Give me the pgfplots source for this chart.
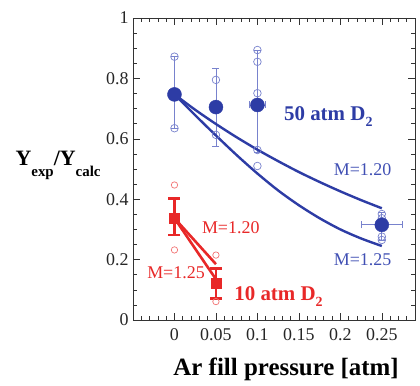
\documentclass[border=0pt]{standalone}
\usepackage{fontspec}
\setmainfont{Liberation Serif}
\usepackage{pgfplots}
\pgfplotsset{compat=1.18}
\definecolor{dblue}{RGB}{45,60,165}
\definecolor{lblue}{RGB}{120,130,205}
\definecolor{mblue}{RGB}{65,80,180}
\definecolor{dred}{RGB}{232,40,40}
\definecolor{lred}{RGB}{242,115,115}
\begin{document}
\begin{tikzpicture}
\useasboundingbox (-133bp,-66bp) rectangle (287bp,320bp);
\begin{axis}[
  at={(0,0)}, anchor=south west,
  scale only axis, width=282bp, height=302bp,
  xmin=-0.05, xmax=0.29, ymin=0, ymax=1,
  axis line style={black!80, line width=0.8pt},
  tick style={black!80, line width=0.6pt},
  major tick length=7bp, minor tick length=4bp,
  tick align=inside,
  xtick={0,0.05,0.1,0.15,0.2,0.25},
  minor xtick={-0.04,-0.03,-0.02,-0.01,0.01,0.02,0.03,0.04,0.06,0.07,0.08,0.09,0.11,0.12,0.13,0.14,0.16,0.17,0.18,0.19,0.21,0.22,0.23,0.24,0.26,0.27,0.28},
  ytick={0,0.2,0.4,0.6,0.8,1},
  minor ytick={0.05,0.1,0.15,0.25,0.3,0.35,0.45,0.5,0.55,0.65,0.7,0.75,0.85,0.9,0.95},
  /pgf/number format/assume math mode=true,
  /pgf/number format/fixed, /pgf/number format/precision=2,
  scaled ticks=false,
  tick label style={font=\fontsize{18}{18}\selectfont, text=black!85},
  xticklabel style={yshift=-5bp},
  yticklabel style={xshift=-1bp},
  clip=false,
  xlabel={\textbf{Ar fill pressure [atm]}},
  xlabel style={font=\fontsize{25}{25}\selectfont, at={(axis description cs:0.543,-0.185)}, anchor=base},
]
% blue vertical error bars
\addplot[only marks, mark=none, lblue,
  error bars/.cd, y dir=both, y explicit,
  error bar style={lblue, line width=0.8bp},
  error mark options={lblue, line width=0.8bp, mark size=3.5bp, rotate=90}]
  table[x=x, y=y, y error plus=ep, y error minus=em] {
x     y      ep     em
0     0.747  0.125  0.112
0.05  0.705  0.128  0.131
0.1   0.712  0.182  0.157
0.25  0.315  0.040  0.050
};
% blue horizontal error bars
\addplot[only marks, mark=none, lblue,
  error bars/.cd, x dir=both, x explicit,
  error bar style={lblue, line width=0.8bp},
  error mark options={lblue, line width=0.8bp, mark size=3.5bp, rotate=90}]
  table[x=x, y=y, x error=ex] {
x     y      ex
0.1   0.712  0.010
0.25  0.315  0.025
};
% blue open circles (individual shots)
\addplot[only marks, mark=o, lblue, mark size=3.8bp, line width=0.7bp] coordinates {
(0,0.872)(0,0.635)(0.05,0.795)(0.05,0.613)
(0.1,0.894)(0.1,0.855)(0.1,0.751)(0.1,0.563)(0.1,0.510)
(0.25,0.351)(0.25,0.337)(0.25,0.276)(0.25,0.265)};
% blue model curves
\addplot[dblue, line width=2.4bp, smooth] coordinates {
(0,0.747)(0.025,0.696)(0.05,0.649)(0.075,0.605)(0.1,0.564)(0.125,0.526)
(0.15,0.490)(0.175,0.457)(0.2,0.426)(0.225,0.397)(0.25,0.370)};
\addplot[dblue, line width=2.4bp, smooth] coordinates {
(0,0.747)(0.025,0.678)(0.05,0.611)(0.075,0.546)(0.1,0.485)(0.125,0.429)
(0.15,0.380)(0.175,0.337)(0.2,0.300)(0.225,0.270)(0.25,0.245)};
% blue averages
\addplot[only marks, mark=*, dblue, mark size=7bp] coordinates {
(0,0.747)(0.05,0.705)(0.1,0.712)(0.25,0.315)};
% red open circles
\addplot[only marks, mark=o, lred, mark size=3.2bp, line width=0.7bp] coordinates {
(0,0.447)(0,0.232)(0.05,0.215)(0.05,0.061)};
% red model lines
\addplot[dred, line width=2.6bp] coordinates {(0,0.337)(0.05,0.185)};
\addplot[dred, line width=2.6bp] coordinates {(0,0.337)(0.05,0.135)};
% red averages with error bars
\addplot[only marks, mark=square*, dred, mark size=5bp,
  error bars/.cd, y dir=both, y explicit,
  error bar style={dred, line width=2.6bp},
  error mark options={dred, line width=2.6bp, mark size=6bp, rotate=90}]
  table[x=x, y=y, y error plus=ep, y error minus=em] {
x     y      ep     em
0     0.337  0.066  0.056
0.05  0.121  0.050  0.049
};
% text labels
\node[anchor=base west, text=dblue, font=\bfseries\fontsize{21}{21}\selectfont] at (axis cs:0.128,0.662)
  {50 atm D\raisebox{-6bp}{\fontsize{14}{14}\selectfont 2}};
\node[anchor=base west, text=mblue, font=\fontsize{18}{18}\selectfont] at (axis cs:0.188,0.480) {M=1.20};
\node[anchor=base west, text=mblue, font=\fontsize{18}{18}\selectfont] at (axis cs:0.188,0.182) {M=1.25};
\node[anchor=base west, text=dred, font=\fontsize{18}{18}\selectfont] at (axis cs:0.029,0.285) {M=1.20};
\node[anchor=base west, text=dred, font=\fontsize{18}{18}\selectfont] at (axis cs:-0.037,0.139) {M=1.25};
\node[anchor=base west, text=dred, font=\bfseries\fontsize{21}{21}\selectfont] at (axis cs:0.068,0.066)
  {10 atm D\raisebox{-6bp}{\fontsize{14}{14}\selectfont 2}};
\node[anchor=base west, font=\bfseries\fontsize{22}{22}\selectfont] at (rel axis cs:-0.429,0.51)
  {Y\raisebox{-11bp}{\fontsize{15}{15}\selectfont exp}/Y\raisebox{-11bp}{\fontsize{15}{15}\selectfont calc}};
\end{axis}
\end{tikzpicture}
\end{document}
